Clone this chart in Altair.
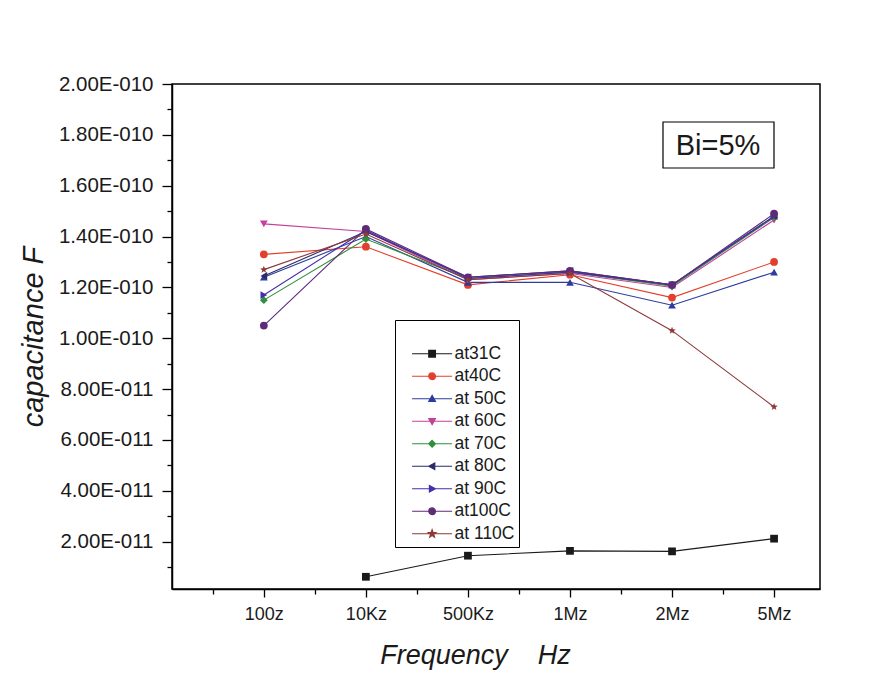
import math
import json
import altair as alt
import pandas as pd

# ---------------- data ----------------
categories = ["100z", "10Kz", "500Kz", "1Mz", "2Mz", "5Mz"]
series_names = ["at31C", "at40C", "at 50C", "at 60C", "at 70C",
                "at 80C", "at 90C", "at100C", "at 110C"]

at31C = [None, 6.2e-12, 1.45e-11, 1.64e-11, 1.62e-11, 2.12e-11]
at40C = [1.33e-10, 1.36e-10, 1.21e-10, 1.25e-10, 1.16e-10, 1.30e-10]
at50C = [1.24e-10, 1.40e-10, 1.22e-10, 1.22e-10, 1.13e-10, 1.26e-10]
at60C = [1.45e-10, 1.42e-10, 1.23e-10, 1.255e-10, 1.20e-10, 1.465e-10]
at70C = [1.15e-10, 1.39e-10, 1.235e-10, 1.26e-10, 1.205e-10, 1.475e-10]
at80C = [1.245e-10, 1.42e-10, 1.24e-10, 1.265e-10, 1.21e-10, 1.48e-10]
at90C = [1.17e-10, 1.425e-10, 1.235e-10, 1.26e-10, 1.21e-10, 1.48e-10]
at100C = [1.05e-10, 1.43e-10, 1.24e-10, 1.265e-10, 1.21e-10, 1.49e-10]
at110C = [1.27e-10, 1.41e-10, 1.23e-10, 1.255e-10, 1.03e-10, 7.3e-11]

all_series = [at31C, at40C, at50C, at60C, at70C, at80C, at90C, at100C, at110C]

series_colors = ["#1a1a1a", "#e2402c", "#2d3c9c", "#c4409c", "#2f8f3a",
                 "#2a2a6c", "#4330aa", "#5e2a7a", "#8e3838"]

y_tick_values = [k * 1e-11 for k in range(1, 21)]
x_tick_values = [k * 0.5 for k in range(1, 13)]
annotation = ["Bi=5%"]

rows = []
for name, vals in zip(series_names, all_series):
    for i, v in enumerate(vals):
        if v is not None:
            rows.append({"series": name, "xi": i + 1, "freq": categories[i], "cap": v})
df = pd.DataFrame(rows)


# ---------------- marker shapes ----------------
def star_path(cx, cy, ro, ri):
    pts = []
    for k in range(10):
        a = -math.pi / 2 + k * math.pi / 5
        r = ro if k % 2 == 0 else ri
        pts.append((cx + r * math.cos(a), cy + r * math.sin(a)))
    return "M" + "L".join(f"{x:.3f},{y:.3f}" for x, y in pts) + "Z"


def marker(kind, cx, r):
    if kind == "square":
        return f"M{cx-r:.3f},{-r:.3f}H{cx+r:.3f}V{r:.3f}H{cx-r:.3f}Z"
    if kind == "circle":
        return (f"M{cx-r:.3f},0A{r:.3f},{r:.3f} 0 1,0 {cx+r:.3f},0"
                f"A{r:.3f},{r:.3f} 0 1,0 {cx-r:.3f},0Z")
    if kind == "triangle-up":
        return f"M{cx:.3f},{-r:.3f}L{cx+r:.3f},{0.8*r:.3f}L{cx-r:.3f},{0.8*r:.3f}Z"
    if kind == "triangle-down":
        return f"M{cx:.3f},{r:.3f}L{cx+r:.3f},{-0.8*r:.3f}L{cx-r:.3f},{-0.8*r:.3f}Z"
    if kind == "diamond":
        return f"M{cx:.3f},{-r:.3f}L{cx+r:.3f},0L{cx:.3f},{r:.3f}L{cx-r:.3f},0Z"
    if kind == "triangle-left":
        return f"M{cx-r:.3f},0L{cx+0.8*r:.3f},{-r:.3f}L{cx+0.8*r:.3f},{r:.3f}Z"
    if kind == "triangle-right":
        return f"M{cx+r:.3f},0L{cx-0.8*r:.3f},{-r:.3f}L{cx-0.8*r:.3f},{r:.3f}Z"
    if kind == "star":
        return star_path(cx, 0, r * 1.2, r * 0.5)
    return ""


marker_kinds = ["square", "circle", "triangle-up", "triangle-down", "diamond",
                "triangle-left", "triangle-right", "circle", "star"]
plot_shapes = [k if k != "star" else star_path(0, 0, 1, 0.42) for k in marker_kinds]
legend_shapes = ["M0.65,0H6.65" + marker(k, 3.65, 0.5) for k in marker_kinds]

FONT = "Liberation Sans"

x_scale = alt.Scale(domain=[0.1, 6.45], nice=False, zero=False)
y_scale = alt.Scale(domain=[1.4e-12, 2e-10], nice=False, zero=False)
color_scale = alt.Scale(domain=series_names, range=series_colors)

x_label_expr = f"datum.value % 1 == 0 ? {json.dumps(categories)}[datum.value - 1] : ''"
y_label_expr = ("round(datum.value / 1e-11) % 2 == 0 ? "
                "replace(format(datum.value, '.2e'), 'e-', 'E-0') : ''")

x_axis = alt.Axis(
    values=x_tick_values, labelExpr=x_label_expr, labelOverlap=False,
    tickSize={"condition": {"test": "datum.value % 1 == 0", "value": 8}, "value": 5},
    title="Frequency\u00a0\u00a0\u00a0\u00a0Hz", titleX=303, titlePadding=19,
    labelPadding=8, labelFlush=False, labelFontSize=18,
)
y_axis = alt.Axis(
    values=y_tick_values, labelExpr=y_label_expr, labelOverlap=False,
    tickSize={"condition": {"test": "round(datum.value / 1e-11) % 2 == 0", "value": 10},
              "value": 5},
    title="capacitance F", titlePadding=10, labelPadding=9, labelFlush=False,
    labelFontSize=20.5, titleFontSize=29,
)

x_enc = alt.X("xi:Q", scale=x_scale, axis=x_axis)
y_enc = alt.Y("cap:Q", scale=y_scale, axis=y_axis)

base = alt.Chart(df)

lines = base.mark_line(strokeWidth=1.1).encode(
    x=x_enc, y=y_enc,
    color=alt.Color("series:N", scale=color_scale, legend=None),
    detail="series:N",
)

points = base.mark_point(filled=True, size=60, opacity=1).encode(
    x=x_enc, y=y_enc,
    color=alt.Color("series:N", scale=color_scale, legend=None),
    shape=alt.Shape("series:N", scale=alt.Scale(domain=series_names, range=plot_shapes),
                    legend=None),
)

legend_def = alt.Legend(
    title=" ", orient="none", legendX=223, legendY=236,
    fillColor="white", strokeColor="black", padding=4,
    labelFont=FONT, labelFontSize=17.5, labelColor="#1a1a1a", labelOffset=38,
    rowPadding=3.5, symbolSize=178, symbolStrokeWidth=1.2,
    titleFontSize=14, titlePadding=7, labelLimit=200,
)

legend_layer = base.mark_point(filled=True, size=178, strokeWidth=1.2, opacity=1).encode(
    x=x_enc, y=y_enc,
    fill=alt.Fill("series:N", scale=alt.Scale(domain=series_names, range=series_colors),
                  legend=legend_def),
    stroke=alt.Stroke("series:N", scale=alt.Scale(domain=series_names, range=series_colors),
                      legend=legend_def),
    shape=alt.Shape("series:N", scale=alt.Scale(domain=series_names, range=legend_shapes),
                    legend=legend_def),
).transform_filter("false")

ann_df = pd.DataFrame({"label": annotation})
ann_box = alt.Chart(ann_df).mark_rect(fill="white", stroke="black", strokeWidth=1.2).encode(
    x=alt.value(491), x2=alt.value(602), y=alt.value(38), y2=alt.value(84)
)
ann_text = alt.Chart(ann_df).mark_text(
    font=FONT, fontSize=29, color="#1a1a1a", align="center", baseline="middle"
).encode(x=alt.value(546), y=alt.value(62), text="label:N")

chart = alt.layer(lines, points, legend_layer, ann_box, ann_text).resolve_scale(
    shape="independent", fill="independent", stroke="independent"
).properties(
    width=648, height=505,
    autosize=alt.AutoSizeParams(type="none"),
    padding={"left": 172, "top": 84, "right": 61, "bottom": 98},
    background="white",
).configure_view(
    stroke="black", strokeWidth=1.5
).configure_axis(
    grid=False, domainColor="black", domainWidth=1.5, tickColor="black", tickWidth=1.3,
    labelFont=FONT, labelColor="#1a1a1a",
    titleFont=FONT, titleFontSize=27, titleFontStyle="italic", titleFontWeight="normal",
    titleColor="#1a1a1a",
)

chart.save("out.html", embed_options={"renderer": "svg", "actions": False})
